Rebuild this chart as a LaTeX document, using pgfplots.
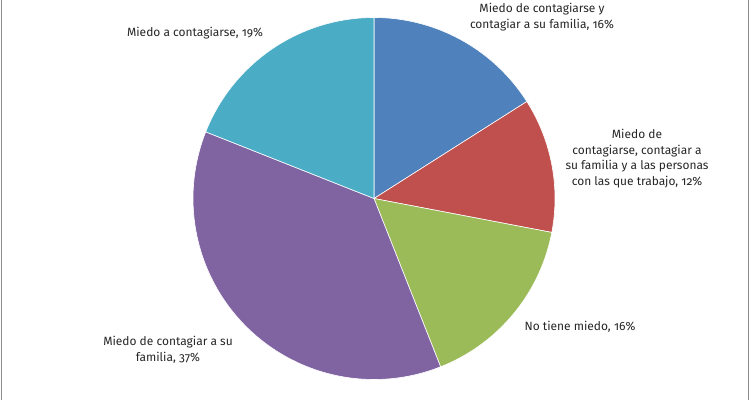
\documentclass[border=0pt]{standalone}
\usepackage{pgfplots}
\usepackage{pgfplotstable}
\pgfplotsset{compat=1.18}
\usepackage{fontspec}
\setmainfont{Fira Sans}[Numbers=OldStyle]
\definecolor{c1}{HTML}{4F81BD}
\definecolor{c2}{HTML}{C0504D}
\definecolor{c3}{HTML}{9BBB59}
\definecolor{c4}{HTML}{8064A2}
\definecolor{c5}{HTML}{4BACC6}
\definecolor{bordergray}{HTML}{8C8C8C}
\definecolor{txt}{HTML}{262626}
\pgfplotstableread{
pct
16
12
16
37
19
}\piedata
\pgfplotstablegetelem{0}{pct}\of\piedata \let\pA\pgfplotsretval
\pgfplotstablegetelem{1}{pct}\of\piedata \let\pB\pgfplotsretval
\pgfplotstablegetelem{2}{pct}\of\piedata \let\pC\pgfplotsretval
\pgfplotstablegetelem{3}{pct}\of\piedata \let\pD\pgfplotsretval
\pgfplotstablegetelem{4}{pct}\of\piedata \let\pE\pgfplotsretval
\pgfmathsetmacro\tA{90}
\pgfmathsetmacro\tB{\tA-3.6*\pA}
\pgfmathsetmacro\tC{\tB-3.6*\pB}
\pgfmathsetmacro\tD{\tC-3.6*\pC}
\pgfmathsetmacro\tE{\tD-3.6*\pD}
\pgfmathsetmacro\tF{\tE-3.6*\pE}
\def\cx{374}
\def\cy{201.5}
\def\rr{181}
\begin{document}
\begin{tikzpicture}
\begin{axis}[
  scale only axis, width=750bp, height=400bp,
  xmin=0, xmax=750, ymin=0, ymax=400,
  hide axis, clip=false,
  every axis plot/.append style={draw=white, line width=0.6bp, samples=80},
]
\addplot[fill=c1, domain=\tB:\tA] ({\cx+\rr*cos(x)},{\cy+\rr*sin(x)}) -- (axis cs:\cx,\cy) -- cycle;
\addplot[fill=c2, domain=\tC:\tB] ({\cx+\rr*cos(x)},{\cy+\rr*sin(x)}) -- (axis cs:\cx,\cy) -- cycle;
\addplot[fill=c3, domain=\tD:\tC] ({\cx+\rr*cos(x)},{\cy+\rr*sin(x)}) -- (axis cs:\cx,\cy) -- cycle;
\addplot[fill=c4, domain=\tE:\tD] ({\cx+\rr*cos(x)},{\cy+\rr*sin(x)}) -- (axis cs:\cx,\cy) -- cycle;
\addplot[fill=c5, domain=\tF:\tE] ({\cx+\rr*cos(x)},{\cy+\rr*sin(x)}) -- (axis cs:\cx,\cy) -- cycle;
\begin{scope}[every node/.style={align=center, text=txt, font=\fontsize{12}{15.5}\selectfont, inner sep=0pt}]
\node at (axis cs:542,383) {Miedo de contagiarse y\\contagiar a su familia, 16\%};
\node at (axis cs:637,241.5) {Miedo de\\contagiarse, contagiar a\\su familia y a las personas\\con las que trabajo, 12\%};
\node at (axis cs:580,73) {No tiene miedo, 16\%};
\node at (axis cs:168,50) {Miedo de contagiar a su\\familia, 37\%};
\node at (axis cs:195,367) {Miedo a contagiarse, 19\%};
\end{scope}
\draw[bordergray, line width=1bp] (axis cs:1.5,0) -- (axis cs:1.5,400);
\draw[bordergray, line width=1bp] (axis cs:748.5,0) -- (axis cs:748.5,400);
\end{axis}
\pgfresetboundingbox
\useasboundingbox (current axis.south west) rectangle (current axis.north east);
\end{tikzpicture}
\end{document}
